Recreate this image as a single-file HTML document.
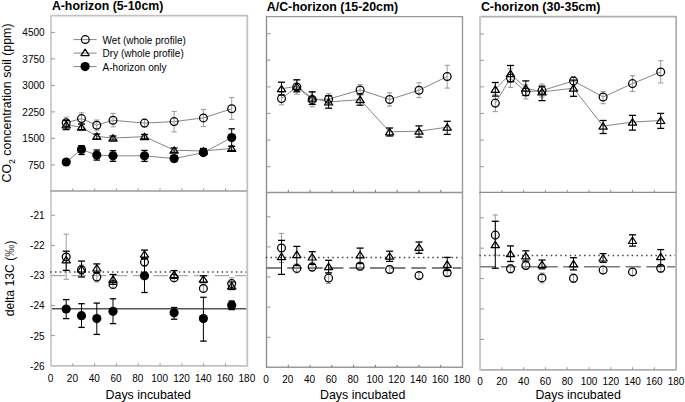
<!DOCTYPE html>
<html><head><meta charset="utf-8"><style>
html,body{margin:0;padding:0;background:#fff;}
svg{display:block;}
text{font-family:"Liberation Sans", sans-serif;fill:#000;}
</style></head><body>
<svg width="685" height="402" viewBox="0 0 685 402">
<rect width="685" height="402" fill="#fff"/>
<path d="M51 15.6H247.3V365.9H51" fill="none" stroke="#c2c2c2" stroke-width="1.8"/>
<line x1="51" y1="14.8" x2="51" y2="366.7" stroke="#d0d0d0" stroke-width="2.0"/>
<line x1="50" y1="191" x2="247.3" y2="191" stroke="#b4b4b4" stroke-width="1.8"/>
<line x1="51" y1="32.4" x2="55" y2="32.4" stroke="#999" stroke-width="1"/>
<line x1="51" y1="58.9" x2="55" y2="58.9" stroke="#999" stroke-width="1"/>
<line x1="51" y1="85.4" x2="55" y2="85.4" stroke="#999" stroke-width="1"/>
<line x1="51" y1="111.9" x2="55" y2="111.9" stroke="#999" stroke-width="1"/>
<line x1="51" y1="138.4" x2="55" y2="138.4" stroke="#999" stroke-width="1"/>
<line x1="51" y1="164.9" x2="55" y2="164.9" stroke="#999" stroke-width="1"/>
<line x1="51" y1="215.3" x2="55" y2="215.3" stroke="#999" stroke-width="1"/>
<line x1="51" y1="245.4" x2="55" y2="245.4" stroke="#999" stroke-width="1"/>
<line x1="51" y1="275.4" x2="55" y2="275.4" stroke="#999" stroke-width="1"/>
<line x1="51" y1="305.5" x2="55" y2="305.5" stroke="#999" stroke-width="1"/>
<line x1="51" y1="335.6" x2="55" y2="335.6" stroke="#999" stroke-width="1"/>
<line x1="72.81" y1="191" x2="72.81" y2="188.4" stroke="#999" stroke-width="1"/>
<line x1="72.81" y1="365.9" x2="72.81" y2="363.3" stroke="#999" stroke-width="1"/>
<line x1="94.62" y1="191" x2="94.62" y2="188.4" stroke="#999" stroke-width="1"/>
<line x1="94.62" y1="365.9" x2="94.62" y2="363.3" stroke="#999" stroke-width="1"/>
<line x1="116.43" y1="191" x2="116.43" y2="188.4" stroke="#999" stroke-width="1"/>
<line x1="116.43" y1="365.9" x2="116.43" y2="363.3" stroke="#999" stroke-width="1"/>
<line x1="138.24" y1="191" x2="138.24" y2="188.4" stroke="#999" stroke-width="1"/>
<line x1="138.24" y1="365.9" x2="138.24" y2="363.3" stroke="#999" stroke-width="1"/>
<line x1="160.06" y1="191" x2="160.06" y2="188.4" stroke="#999" stroke-width="1"/>
<line x1="160.06" y1="365.9" x2="160.06" y2="363.3" stroke="#999" stroke-width="1"/>
<line x1="181.87" y1="191" x2="181.87" y2="188.4" stroke="#999" stroke-width="1"/>
<line x1="181.87" y1="365.9" x2="181.87" y2="363.3" stroke="#999" stroke-width="1"/>
<line x1="203.68" y1="191" x2="203.68" y2="188.4" stroke="#999" stroke-width="1"/>
<line x1="203.68" y1="365.9" x2="203.68" y2="363.3" stroke="#999" stroke-width="1"/>
<line x1="225.49" y1="191" x2="225.49" y2="188.4" stroke="#999" stroke-width="1"/>
<line x1="225.49" y1="365.9" x2="225.49" y2="363.3" stroke="#999" stroke-width="1"/>
<line x1="50.25" y1="272" x2="246.3" y2="272" stroke="#444" stroke-width="1.4" stroke-dasharray="1.5 3.26"/>
<line x1="51" y1="275.6" x2="246.3" y2="275.6" stroke="#aaa" stroke-width="1.3" stroke-dasharray="14.6 5.85"/>
<line x1="52" y1="308.7" x2="246.3" y2="308.7" stroke="#555" stroke-width="1.6"/>
<polyline points="66.2,122.7 81.5,118.6 96.8,125.2 113,120.3 144.5,123.1 174.1,121.6 203.4,117.9 231.7,108.8" fill="none" stroke="#868686" stroke-width="1"/>
<polyline points="66.2,124.8 81.5,127.2 96.8,136.3 113,138.1 144.5,136.6 174.1,150.2 203.4,151 231.7,148.4" fill="none" stroke="#868686" stroke-width="1"/>
<polyline points="66.2,162 81.5,149.5 96.8,155.1 113,155.8 144.5,155.8 174.1,158.6 203.4,152.6 231.7,137.6" fill="none" stroke="#868686" stroke-width="1"/>
<line x1="66.2" y1="117.2" x2="66.2" y2="129" stroke="#9e9e9e" stroke-width="1.0"/>
<line x1="63.6" y1="117.2" x2="68.8" y2="117.2" stroke="#9e9e9e" stroke-width="1.1"/>
<line x1="63.6" y1="129" x2="68.8" y2="129" stroke="#9e9e9e" stroke-width="1.1"/>
<line x1="81.5" y1="112.8" x2="81.5" y2="124.3" stroke="#9e9e9e" stroke-width="1.0"/>
<line x1="78.9" y1="112.8" x2="84.1" y2="112.8" stroke="#9e9e9e" stroke-width="1.1"/>
<line x1="78.9" y1="124.3" x2="84.1" y2="124.3" stroke="#9e9e9e" stroke-width="1.1"/>
<line x1="96.8" y1="120" x2="96.8" y2="130.8" stroke="#9e9e9e" stroke-width="1.0"/>
<line x1="94.2" y1="120" x2="99.4" y2="120" stroke="#9e9e9e" stroke-width="1.1"/>
<line x1="94.2" y1="130.8" x2="99.4" y2="130.8" stroke="#9e9e9e" stroke-width="1.1"/>
<line x1="113" y1="113.4" x2="113" y2="126.8" stroke="#9e9e9e" stroke-width="1.0"/>
<line x1="110.4" y1="113.4" x2="115.6" y2="113.4" stroke="#9e9e9e" stroke-width="1.1"/>
<line x1="110.4" y1="126.8" x2="115.6" y2="126.8" stroke="#9e9e9e" stroke-width="1.1"/>
<line x1="144.5" y1="119.5" x2="144.5" y2="126.7" stroke="#9e9e9e" stroke-width="1.0"/>
<line x1="141.9" y1="119.5" x2="147.1" y2="119.5" stroke="#9e9e9e" stroke-width="1.1"/>
<line x1="141.9" y1="126.7" x2="147.1" y2="126.7" stroke="#9e9e9e" stroke-width="1.1"/>
<line x1="174.1" y1="111.4" x2="174.1" y2="131.9" stroke="#9e9e9e" stroke-width="1.0"/>
<line x1="171.5" y1="111.4" x2="176.7" y2="111.4" stroke="#9e9e9e" stroke-width="1.1"/>
<line x1="171.5" y1="131.9" x2="176.7" y2="131.9" stroke="#9e9e9e" stroke-width="1.1"/>
<line x1="203.4" y1="109.5" x2="203.4" y2="126.5" stroke="#9e9e9e" stroke-width="1.0"/>
<line x1="200.8" y1="109.5" x2="206" y2="109.5" stroke="#9e9e9e" stroke-width="1.1"/>
<line x1="200.8" y1="126.5" x2="206" y2="126.5" stroke="#9e9e9e" stroke-width="1.1"/>
<line x1="231.7" y1="97.5" x2="231.7" y2="119.3" stroke="#9e9e9e" stroke-width="1.0"/>
<line x1="229.1" y1="97.5" x2="234.3" y2="97.5" stroke="#9e9e9e" stroke-width="1.1"/>
<line x1="229.1" y1="119.3" x2="234.3" y2="119.3" stroke="#9e9e9e" stroke-width="1.1"/>
<line x1="66.2" y1="120.5" x2="66.2" y2="129.6" stroke="#000" stroke-width="1.0"/>
<line x1="62.7" y1="120.5" x2="69.7" y2="120.5" stroke="#000" stroke-width="1.3"/>
<line x1="62.7" y1="129.6" x2="69.7" y2="129.6" stroke="#000" stroke-width="1.3"/>
<line x1="81.5" y1="124" x2="81.5" y2="129.6" stroke="#000" stroke-width="1.0"/>
<line x1="78" y1="124" x2="85" y2="124" stroke="#000" stroke-width="1.3"/>
<line x1="78" y1="129.6" x2="85" y2="129.6" stroke="#000" stroke-width="1.3"/>
<line x1="96.8" y1="134" x2="96.8" y2="139" stroke="#000" stroke-width="1.0"/>
<line x1="93.3" y1="134" x2="100.3" y2="134" stroke="#000" stroke-width="1.3"/>
<line x1="93.3" y1="139" x2="100.3" y2="139" stroke="#000" stroke-width="1.3"/>
<line x1="113" y1="136" x2="113" y2="140" stroke="#000" stroke-width="1.0"/>
<line x1="109.5" y1="136" x2="116.5" y2="136" stroke="#000" stroke-width="1.3"/>
<line x1="109.5" y1="140" x2="116.5" y2="140" stroke="#000" stroke-width="1.3"/>
<line x1="144.5" y1="134.5" x2="144.5" y2="138.8" stroke="#000" stroke-width="1.0"/>
<line x1="141" y1="134.5" x2="148" y2="134.5" stroke="#000" stroke-width="1.3"/>
<line x1="141" y1="138.8" x2="148" y2="138.8" stroke="#000" stroke-width="1.3"/>
<line x1="174.1" y1="148" x2="174.1" y2="152.3" stroke="#000" stroke-width="1.0"/>
<line x1="170.6" y1="148" x2="177.6" y2="148" stroke="#000" stroke-width="1.3"/>
<line x1="170.6" y1="152.3" x2="177.6" y2="152.3" stroke="#000" stroke-width="1.3"/>
<line x1="203.4" y1="148.5" x2="203.4" y2="153.5" stroke="#000" stroke-width="1.0"/>
<line x1="199.9" y1="148.5" x2="206.9" y2="148.5" stroke="#000" stroke-width="1.3"/>
<line x1="199.9" y1="153.5" x2="206.9" y2="153.5" stroke="#000" stroke-width="1.3"/>
<line x1="231.7" y1="146.3" x2="231.7" y2="150.5" stroke="#000" stroke-width="1.0"/>
<line x1="228.2" y1="146.3" x2="235.2" y2="146.3" stroke="#000" stroke-width="1.3"/>
<line x1="228.2" y1="150.5" x2="235.2" y2="150.5" stroke="#000" stroke-width="1.3"/>
<line x1="81.5" y1="145.6" x2="81.5" y2="154.5" stroke="#000" stroke-width="1.0"/>
<line x1="78.3" y1="145.6" x2="84.7" y2="145.6" stroke="#000" stroke-width="1.3"/>
<line x1="78.3" y1="154.5" x2="84.7" y2="154.5" stroke="#000" stroke-width="1.3"/>
<line x1="96.8" y1="150" x2="96.8" y2="160.1" stroke="#000" stroke-width="1.0"/>
<line x1="93.6" y1="150" x2="100" y2="150" stroke="#000" stroke-width="1.3"/>
<line x1="93.6" y1="160.1" x2="100" y2="160.1" stroke="#000" stroke-width="1.3"/>
<line x1="113" y1="150.6" x2="113" y2="161.3" stroke="#000" stroke-width="1.0"/>
<line x1="109.8" y1="150.6" x2="116.2" y2="150.6" stroke="#000" stroke-width="1.3"/>
<line x1="109.8" y1="161.3" x2="116.2" y2="161.3" stroke="#000" stroke-width="1.3"/>
<line x1="144.5" y1="150.4" x2="144.5" y2="161.4" stroke="#000" stroke-width="1.0"/>
<line x1="141.3" y1="150.4" x2="147.7" y2="150.4" stroke="#000" stroke-width="1.3"/>
<line x1="141.3" y1="161.4" x2="147.7" y2="161.4" stroke="#000" stroke-width="1.3"/>
<line x1="174.1" y1="155.6" x2="174.1" y2="161.6" stroke="#000" stroke-width="1.0"/>
<line x1="170.9" y1="155.6" x2="177.3" y2="155.6" stroke="#000" stroke-width="1.3"/>
<line x1="170.9" y1="161.6" x2="177.3" y2="161.6" stroke="#000" stroke-width="1.3"/>
<line x1="203.4" y1="150.5" x2="203.4" y2="155" stroke="#000" stroke-width="1.0"/>
<line x1="200.2" y1="150.5" x2="206.6" y2="150.5" stroke="#000" stroke-width="1.3"/>
<line x1="200.2" y1="155" x2="206.6" y2="155" stroke="#000" stroke-width="1.3"/>
<line x1="231.7" y1="128.8" x2="231.7" y2="146.4" stroke="#000" stroke-width="1.0"/>
<line x1="228.5" y1="128.8" x2="234.9" y2="128.8" stroke="#000" stroke-width="1.3"/>
<line x1="228.5" y1="146.4" x2="234.9" y2="146.4" stroke="#000" stroke-width="1.3"/>
<circle cx="66.2" cy="122.7" r="3.9" fill="none" stroke="#000" stroke-width="1.25"/>
<circle cx="81.5" cy="118.6" r="3.9" fill="none" stroke="#000" stroke-width="1.25"/>
<circle cx="96.8" cy="125.2" r="3.9" fill="none" stroke="#000" stroke-width="1.25"/>
<circle cx="113" cy="120.3" r="3.9" fill="none" stroke="#000" stroke-width="1.25"/>
<circle cx="144.5" cy="123.1" r="3.9" fill="none" stroke="#000" stroke-width="1.25"/>
<circle cx="174.1" cy="121.6" r="3.9" fill="none" stroke="#000" stroke-width="1.25"/>
<circle cx="203.4" cy="117.9" r="3.9" fill="none" stroke="#000" stroke-width="1.25"/>
<circle cx="231.7" cy="108.8" r="3.9" fill="none" stroke="#000" stroke-width="1.25"/>
<path d="M66.2 121.4L70.35 127.8L62.05 127.8Z" fill="none" stroke="#000" stroke-width="1.2" stroke-linejoin="round"/>
<path d="M81.5 123.8L85.65 130.2L77.35 130.2Z" fill="none" stroke="#000" stroke-width="1.2" stroke-linejoin="round"/>
<path d="M96.8 132.9L100.95 139.3L92.65 139.3Z" fill="none" stroke="#000" stroke-width="1.2" stroke-linejoin="round"/>
<path d="M113 134.7L117.15 141.1L108.85 141.1Z" fill="none" stroke="#000" stroke-width="1.2" stroke-linejoin="round"/>
<path d="M144.5 133.2L148.65 139.6L140.35 139.6Z" fill="none" stroke="#000" stroke-width="1.2" stroke-linejoin="round"/>
<path d="M174.1 146.8L178.25 153.2L169.95 153.2Z" fill="none" stroke="#000" stroke-width="1.2" stroke-linejoin="round"/>
<path d="M203.4 147.6L207.55 154L199.25 154Z" fill="none" stroke="#000" stroke-width="1.2" stroke-linejoin="round"/>
<path d="M231.7 145L235.85 151.4L227.55 151.4Z" fill="none" stroke="#000" stroke-width="1.2" stroke-linejoin="round"/>
<circle cx="66.2" cy="162" r="4.6" fill="#000"/>
<circle cx="81.5" cy="149.5" r="4.6" fill="#000"/>
<circle cx="96.8" cy="155.1" r="4.6" fill="#000"/>
<circle cx="113" cy="155.8" r="4.6" fill="#000"/>
<circle cx="144.5" cy="155.8" r="4.6" fill="#000"/>
<circle cx="174.1" cy="158.6" r="4.6" fill="#000"/>
<circle cx="203.4" cy="152.6" r="4.6" fill="#000"/>
<circle cx="231.7" cy="137.6" r="4.6" fill="#000"/>
<line x1="66.2" y1="234.2" x2="66.2" y2="279.4" stroke="#9e9e9e" stroke-width="1.0"/>
<line x1="63.6" y1="234.2" x2="68.8" y2="234.2" stroke="#9e9e9e" stroke-width="1.1"/>
<line x1="63.6" y1="279.4" x2="68.8" y2="279.4" stroke="#9e9e9e" stroke-width="1.1"/>
<line x1="81.5" y1="265" x2="81.5" y2="274.5" stroke="#9e9e9e" stroke-width="1.0"/>
<line x1="78.9" y1="265" x2="84.1" y2="265" stroke="#9e9e9e" stroke-width="1.1"/>
<line x1="78.9" y1="274.5" x2="84.1" y2="274.5" stroke="#9e9e9e" stroke-width="1.1"/>
<line x1="96.8" y1="272" x2="96.8" y2="282" stroke="#9e9e9e" stroke-width="1.0"/>
<line x1="94.2" y1="272" x2="99.4" y2="272" stroke="#9e9e9e" stroke-width="1.1"/>
<line x1="94.2" y1="282" x2="99.4" y2="282" stroke="#9e9e9e" stroke-width="1.1"/>
<line x1="113" y1="280" x2="113" y2="288.5" stroke="#9e9e9e" stroke-width="1.0"/>
<line x1="110.4" y1="280" x2="115.6" y2="280" stroke="#9e9e9e" stroke-width="1.1"/>
<line x1="110.4" y1="288.5" x2="115.6" y2="288.5" stroke="#9e9e9e" stroke-width="1.1"/>
<line x1="144.5" y1="258" x2="144.5" y2="266" stroke="#9e9e9e" stroke-width="1.0"/>
<line x1="141.9" y1="258" x2="147.1" y2="258" stroke="#9e9e9e" stroke-width="1.1"/>
<line x1="141.9" y1="266" x2="147.1" y2="266" stroke="#9e9e9e" stroke-width="1.1"/>
<line x1="174.1" y1="274.5" x2="174.1" y2="281" stroke="#9e9e9e" stroke-width="1.0"/>
<line x1="171.5" y1="274.5" x2="176.7" y2="274.5" stroke="#9e9e9e" stroke-width="1.1"/>
<line x1="171.5" y1="281" x2="176.7" y2="281" stroke="#9e9e9e" stroke-width="1.1"/>
<line x1="203.4" y1="285" x2="203.4" y2="292" stroke="#9e9e9e" stroke-width="1.0"/>
<line x1="200.8" y1="285" x2="206" y2="285" stroke="#9e9e9e" stroke-width="1.1"/>
<line x1="200.8" y1="292" x2="206" y2="292" stroke="#9e9e9e" stroke-width="1.1"/>
<line x1="231.7" y1="277.8" x2="231.7" y2="289.4" stroke="#9e9e9e" stroke-width="1.0"/>
<line x1="229.1" y1="277.8" x2="234.3" y2="277.8" stroke="#9e9e9e" stroke-width="1.1"/>
<line x1="229.1" y1="289.4" x2="234.3" y2="289.4" stroke="#9e9e9e" stroke-width="1.1"/>
<line x1="66.2" y1="251.2" x2="66.2" y2="270.4" stroke="#000" stroke-width="1.0"/>
<line x1="62.7" y1="251.2" x2="69.7" y2="251.2" stroke="#000" stroke-width="1.3"/>
<line x1="62.7" y1="270.4" x2="69.7" y2="270.4" stroke="#000" stroke-width="1.3"/>
<line x1="81.5" y1="261.1" x2="81.5" y2="277" stroke="#000" stroke-width="1.0"/>
<line x1="78" y1="261.1" x2="85" y2="261.1" stroke="#000" stroke-width="1.3"/>
<line x1="78" y1="277" x2="85" y2="277" stroke="#000" stroke-width="1.3"/>
<line x1="96.8" y1="263.9" x2="96.8" y2="272.5" stroke="#000" stroke-width="1.0"/>
<line x1="93.3" y1="263.9" x2="100.3" y2="263.9" stroke="#000" stroke-width="1.3"/>
<line x1="93.3" y1="272.5" x2="100.3" y2="272.5" stroke="#000" stroke-width="1.3"/>
<line x1="113" y1="274.5" x2="113" y2="284.3" stroke="#000" stroke-width="1.0"/>
<line x1="109.5" y1="274.5" x2="116.5" y2="274.5" stroke="#000" stroke-width="1.3"/>
<line x1="109.5" y1="284.3" x2="116.5" y2="284.3" stroke="#000" stroke-width="1.3"/>
<line x1="144.5" y1="250.1" x2="144.5" y2="258.3" stroke="#000" stroke-width="1.0"/>
<line x1="141" y1="250.1" x2="148" y2="250.1" stroke="#000" stroke-width="1.3"/>
<line x1="141" y1="258.3" x2="148" y2="258.3" stroke="#000" stroke-width="1.3"/>
<line x1="174.1" y1="270.6" x2="174.1" y2="278.4" stroke="#000" stroke-width="1.0"/>
<line x1="170.6" y1="270.6" x2="177.6" y2="270.6" stroke="#000" stroke-width="1.3"/>
<line x1="170.6" y1="278.4" x2="177.6" y2="278.4" stroke="#000" stroke-width="1.3"/>
<line x1="203.4" y1="275.8" x2="203.4" y2="282.6" stroke="#000" stroke-width="1.0"/>
<line x1="199.9" y1="275.8" x2="206.9" y2="275.8" stroke="#000" stroke-width="1.3"/>
<line x1="199.9" y1="282.6" x2="206.9" y2="282.6" stroke="#000" stroke-width="1.3"/>
<line x1="231.7" y1="282" x2="231.7" y2="289.5" stroke="#000" stroke-width="1.0"/>
<line x1="228.2" y1="282" x2="235.2" y2="282" stroke="#000" stroke-width="1.3"/>
<line x1="228.2" y1="289.5" x2="235.2" y2="289.5" stroke="#000" stroke-width="1.3"/>
<line x1="66.2" y1="299.6" x2="66.2" y2="318.6" stroke="#000" stroke-width="1.0"/>
<line x1="63" y1="299.6" x2="69.4" y2="299.6" stroke="#000" stroke-width="1.3"/>
<line x1="63" y1="318.6" x2="69.4" y2="318.6" stroke="#000" stroke-width="1.3"/>
<line x1="81.5" y1="303.7" x2="81.5" y2="327.4" stroke="#000" stroke-width="1.0"/>
<line x1="78.3" y1="303.7" x2="84.7" y2="303.7" stroke="#000" stroke-width="1.3"/>
<line x1="78.3" y1="327.4" x2="84.7" y2="327.4" stroke="#000" stroke-width="1.3"/>
<line x1="96.8" y1="303.1" x2="96.8" y2="334.4" stroke="#000" stroke-width="1.0"/>
<line x1="93.6" y1="303.1" x2="100" y2="303.1" stroke="#000" stroke-width="1.3"/>
<line x1="93.6" y1="334.4" x2="100" y2="334.4" stroke="#000" stroke-width="1.3"/>
<line x1="113" y1="298.8" x2="113" y2="323.6" stroke="#000" stroke-width="1.0"/>
<line x1="109.8" y1="298.8" x2="116.2" y2="298.8" stroke="#000" stroke-width="1.3"/>
<line x1="109.8" y1="323.6" x2="116.2" y2="323.6" stroke="#000" stroke-width="1.3"/>
<line x1="144.5" y1="259.1" x2="144.5" y2="292.5" stroke="#000" stroke-width="1.0"/>
<line x1="141.3" y1="259.1" x2="147.7" y2="259.1" stroke="#000" stroke-width="1.3"/>
<line x1="141.3" y1="292.5" x2="147.7" y2="292.5" stroke="#000" stroke-width="1.3"/>
<line x1="174.1" y1="307.5" x2="174.1" y2="319.2" stroke="#000" stroke-width="1.0"/>
<line x1="170.9" y1="307.5" x2="177.3" y2="307.5" stroke="#000" stroke-width="1.3"/>
<line x1="170.9" y1="319.2" x2="177.3" y2="319.2" stroke="#000" stroke-width="1.3"/>
<line x1="203.4" y1="297.3" x2="203.4" y2="341.1" stroke="#000" stroke-width="1.0"/>
<line x1="200.2" y1="297.3" x2="206.6" y2="297.3" stroke="#000" stroke-width="1.3"/>
<line x1="200.2" y1="341.1" x2="206.6" y2="341.1" stroke="#000" stroke-width="1.3"/>
<line x1="231.7" y1="301.1" x2="231.7" y2="309.6" stroke="#000" stroke-width="1.0"/>
<line x1="228.5" y1="301.1" x2="234.9" y2="301.1" stroke="#000" stroke-width="1.3"/>
<line x1="228.5" y1="309.6" x2="234.9" y2="309.6" stroke="#000" stroke-width="1.3"/>
<circle cx="66.2" cy="256.9" r="3.9" fill="none" stroke="#000" stroke-width="1.25"/>
<circle cx="81.5" cy="269.8" r="3.9" fill="none" stroke="#000" stroke-width="1.25"/>
<circle cx="96.8" cy="277" r="3.9" fill="none" stroke="#000" stroke-width="1.25"/>
<circle cx="113" cy="284.4" r="3.9" fill="none" stroke="#000" stroke-width="1.25"/>
<circle cx="144.5" cy="262.1" r="3.9" fill="none" stroke="#000" stroke-width="1.25"/>
<circle cx="174.1" cy="277.9" r="3.9" fill="none" stroke="#000" stroke-width="1.25"/>
<circle cx="203.4" cy="288.4" r="3.9" fill="none" stroke="#000" stroke-width="1.25"/>
<circle cx="231.7" cy="283.6" r="3.9" fill="none" stroke="#000" stroke-width="1.25"/>
<path d="M66.2 256.4L70.35 262.8L62.05 262.8Z" fill="none" stroke="#000" stroke-width="1.2" stroke-linejoin="round"/>
<path d="M81.5 265.6L85.65 272L77.35 272Z" fill="none" stroke="#000" stroke-width="1.2" stroke-linejoin="round"/>
<path d="M96.8 264.6L100.95 271L92.65 271Z" fill="none" stroke="#000" stroke-width="1.2" stroke-linejoin="round"/>
<path d="M113 275.9L117.15 282.3L108.85 282.3Z" fill="none" stroke="#000" stroke-width="1.2" stroke-linejoin="round"/>
<path d="M144.5 250.8L148.65 257.2L140.35 257.2Z" fill="none" stroke="#000" stroke-width="1.2" stroke-linejoin="round"/>
<path d="M174.1 271.2L178.25 277.6L169.95 277.6Z" fill="none" stroke="#000" stroke-width="1.2" stroke-linejoin="round"/>
<path d="M203.4 275.8L207.55 282.2L199.25 282.2Z" fill="none" stroke="#000" stroke-width="1.2" stroke-linejoin="round"/>
<path d="M231.7 282.5L235.85 288.9L227.55 288.9Z" fill="none" stroke="#000" stroke-width="1.2" stroke-linejoin="round"/>
<circle cx="66.2" cy="309" r="4.6" fill="#000"/>
<circle cx="81.5" cy="315.7" r="4.6" fill="#000"/>
<circle cx="96.8" cy="318.6" r="4.6" fill="#000"/>
<circle cx="113" cy="311.3" r="4.6" fill="#000"/>
<circle cx="144.5" cy="275.8" r="4.6" fill="#000"/>
<circle cx="174.1" cy="312.8" r="4.6" fill="#000"/>
<circle cx="203.4" cy="318.6" r="4.6" fill="#000"/>
<circle cx="231.7" cy="305.2" r="4.6" fill="#000"/>
<path d="M266.5 16.6H462.5V367.3H266.5" fill="none" stroke="#9a9a9a" stroke-width="1.4"/>
<line x1="266.5" y1="15.8" x2="266.5" y2="368.1" stroke="#8a8a8a" stroke-width="1.3"/>
<line x1="265.85" y1="192.4" x2="462.5" y2="192.4" stroke="#959595" stroke-width="1.5"/>
<line x1="266.5" y1="33.6" x2="270.5" y2="33.6" stroke="#999" stroke-width="1"/>
<line x1="266.5" y1="60.2" x2="270.5" y2="60.2" stroke="#999" stroke-width="1"/>
<line x1="266.5" y1="86.9" x2="270.5" y2="86.9" stroke="#999" stroke-width="1"/>
<line x1="266.5" y1="113.4" x2="270.5" y2="113.4" stroke="#999" stroke-width="1"/>
<line x1="266.5" y1="140.1" x2="270.5" y2="140.1" stroke="#999" stroke-width="1"/>
<line x1="266.5" y1="166.7" x2="270.5" y2="166.7" stroke="#999" stroke-width="1"/>
<line x1="266.5" y1="216.8" x2="270.5" y2="216.8" stroke="#999" stroke-width="1"/>
<line x1="266.5" y1="246.9" x2="270.5" y2="246.9" stroke="#999" stroke-width="1"/>
<line x1="266.5" y1="277" x2="270.5" y2="277" stroke="#999" stroke-width="1"/>
<line x1="266.5" y1="307.2" x2="270.5" y2="307.2" stroke="#999" stroke-width="1"/>
<line x1="266.5" y1="337.3" x2="270.5" y2="337.3" stroke="#999" stroke-width="1"/>
<line x1="288.28" y1="192.4" x2="288.28" y2="189.8" stroke="#7a7a7a" stroke-width="1"/>
<line x1="288.28" y1="367.3" x2="288.28" y2="364.7" stroke="#7a7a7a" stroke-width="1"/>
<line x1="310.06" y1="192.4" x2="310.06" y2="189.8" stroke="#7a7a7a" stroke-width="1"/>
<line x1="310.06" y1="367.3" x2="310.06" y2="364.7" stroke="#7a7a7a" stroke-width="1"/>
<line x1="331.83" y1="192.4" x2="331.83" y2="189.8" stroke="#7a7a7a" stroke-width="1"/>
<line x1="331.83" y1="367.3" x2="331.83" y2="364.7" stroke="#7a7a7a" stroke-width="1"/>
<line x1="353.61" y1="192.4" x2="353.61" y2="189.8" stroke="#7a7a7a" stroke-width="1"/>
<line x1="353.61" y1="367.3" x2="353.61" y2="364.7" stroke="#7a7a7a" stroke-width="1"/>
<line x1="375.39" y1="192.4" x2="375.39" y2="189.8" stroke="#7a7a7a" stroke-width="1"/>
<line x1="375.39" y1="367.3" x2="375.39" y2="364.7" stroke="#7a7a7a" stroke-width="1"/>
<line x1="397.17" y1="192.4" x2="397.17" y2="189.8" stroke="#7a7a7a" stroke-width="1"/>
<line x1="397.17" y1="367.3" x2="397.17" y2="364.7" stroke="#7a7a7a" stroke-width="1"/>
<line x1="418.94" y1="192.4" x2="418.94" y2="189.8" stroke="#7a7a7a" stroke-width="1"/>
<line x1="418.94" y1="367.3" x2="418.94" y2="364.7" stroke="#7a7a7a" stroke-width="1"/>
<line x1="440.72" y1="192.4" x2="440.72" y2="189.8" stroke="#7a7a7a" stroke-width="1"/>
<line x1="440.72" y1="367.3" x2="440.72" y2="364.7" stroke="#7a7a7a" stroke-width="1"/>
<line x1="265.75" y1="257.5" x2="461.5" y2="257.5" stroke="#444" stroke-width="1.4" stroke-dasharray="1.5 3.26"/>
<line x1="266.5" y1="268" x2="461.5" y2="268" stroke="#5a5a5a" stroke-width="1.6" stroke-dasharray="14.9 5.78"/>
<polyline points="281.5,98.6 296.8,87 312.2,99.5 328.6,99.2 360.1,89.9 389.6,99.5 419,90.2 447.2,76.5" fill="none" stroke="#868686" stroke-width="1"/>
<polyline points="281.5,88.7 296.8,86.4 312.2,98.1 328.6,102 360.1,99.6 389.6,131.8 419,131.2 447.2,127.2" fill="none" stroke="#868686" stroke-width="1"/>
<line x1="281.5" y1="92.4" x2="281.5" y2="104.8" stroke="#9e9e9e" stroke-width="1.0"/>
<line x1="278.9" y1="92.4" x2="284.1" y2="92.4" stroke="#9e9e9e" stroke-width="1.1"/>
<line x1="278.9" y1="104.8" x2="284.1" y2="104.8" stroke="#9e9e9e" stroke-width="1.1"/>
<line x1="296.8" y1="79.8" x2="296.8" y2="94.2" stroke="#9e9e9e" stroke-width="1.0"/>
<line x1="294.2" y1="79.8" x2="299.4" y2="79.8" stroke="#9e9e9e" stroke-width="1.1"/>
<line x1="294.2" y1="94.2" x2="299.4" y2="94.2" stroke="#9e9e9e" stroke-width="1.1"/>
<line x1="312.2" y1="92.5" x2="312.2" y2="106.8" stroke="#9e9e9e" stroke-width="1.0"/>
<line x1="309.6" y1="92.5" x2="314.8" y2="92.5" stroke="#9e9e9e" stroke-width="1.1"/>
<line x1="309.6" y1="106.8" x2="314.8" y2="106.8" stroke="#9e9e9e" stroke-width="1.1"/>
<line x1="328.6" y1="93.7" x2="328.6" y2="104.7" stroke="#9e9e9e" stroke-width="1.0"/>
<line x1="326" y1="93.7" x2="331.2" y2="93.7" stroke="#9e9e9e" stroke-width="1.1"/>
<line x1="326" y1="104.7" x2="331.2" y2="104.7" stroke="#9e9e9e" stroke-width="1.1"/>
<line x1="360.1" y1="84.6" x2="360.1" y2="95.2" stroke="#9e9e9e" stroke-width="1.0"/>
<line x1="357.5" y1="84.6" x2="362.7" y2="84.6" stroke="#9e9e9e" stroke-width="1.1"/>
<line x1="357.5" y1="95.2" x2="362.7" y2="95.2" stroke="#9e9e9e" stroke-width="1.1"/>
<line x1="389.6" y1="92.7" x2="389.6" y2="106.1" stroke="#9e9e9e" stroke-width="1.0"/>
<line x1="387" y1="92.7" x2="392.2" y2="92.7" stroke="#9e9e9e" stroke-width="1.1"/>
<line x1="387" y1="106.1" x2="392.2" y2="106.1" stroke="#9e9e9e" stroke-width="1.1"/>
<line x1="419" y1="82.8" x2="419" y2="97.6" stroke="#9e9e9e" stroke-width="1.0"/>
<line x1="416.4" y1="82.8" x2="421.6" y2="82.8" stroke="#9e9e9e" stroke-width="1.1"/>
<line x1="416.4" y1="97.6" x2="421.6" y2="97.6" stroke="#9e9e9e" stroke-width="1.1"/>
<line x1="447.2" y1="65.3" x2="447.2" y2="88.1" stroke="#9e9e9e" stroke-width="1.0"/>
<line x1="444.6" y1="65.3" x2="449.8" y2="65.3" stroke="#9e9e9e" stroke-width="1.1"/>
<line x1="444.6" y1="88.1" x2="449.8" y2="88.1" stroke="#9e9e9e" stroke-width="1.1"/>
<line x1="281.5" y1="82.2" x2="281.5" y2="95" stroke="#000" stroke-width="1.0"/>
<line x1="278" y1="82.2" x2="285" y2="82.2" stroke="#000" stroke-width="1.3"/>
<line x1="278" y1="95" x2="285" y2="95" stroke="#000" stroke-width="1.3"/>
<line x1="296.8" y1="79.8" x2="296.8" y2="91.8" stroke="#000" stroke-width="1.0"/>
<line x1="293.3" y1="79.8" x2="300.3" y2="79.8" stroke="#000" stroke-width="1.3"/>
<line x1="293.3" y1="91.8" x2="300.3" y2="91.8" stroke="#000" stroke-width="1.3"/>
<line x1="312.2" y1="91.8" x2="312.2" y2="104.4" stroke="#000" stroke-width="1.0"/>
<line x1="308.7" y1="91.8" x2="315.7" y2="91.8" stroke="#000" stroke-width="1.3"/>
<line x1="308.7" y1="104.4" x2="315.7" y2="104.4" stroke="#000" stroke-width="1.3"/>
<line x1="328.6" y1="95.8" x2="328.6" y2="108.2" stroke="#000" stroke-width="1.0"/>
<line x1="325.1" y1="95.8" x2="332.1" y2="95.8" stroke="#000" stroke-width="1.3"/>
<line x1="325.1" y1="108.2" x2="332.1" y2="108.2" stroke="#000" stroke-width="1.3"/>
<line x1="360.1" y1="94" x2="360.1" y2="105.2" stroke="#000" stroke-width="1.0"/>
<line x1="356.6" y1="94" x2="363.6" y2="94" stroke="#000" stroke-width="1.3"/>
<line x1="356.6" y1="105.2" x2="363.6" y2="105.2" stroke="#000" stroke-width="1.3"/>
<line x1="389.6" y1="128" x2="389.6" y2="136" stroke="#000" stroke-width="1.0"/>
<line x1="386.1" y1="128" x2="393.1" y2="128" stroke="#000" stroke-width="1.3"/>
<line x1="386.1" y1="136" x2="393.1" y2="136" stroke="#000" stroke-width="1.3"/>
<line x1="419" y1="125.9" x2="419" y2="137.1" stroke="#000" stroke-width="1.0"/>
<line x1="415.5" y1="125.9" x2="422.5" y2="125.9" stroke="#000" stroke-width="1.3"/>
<line x1="415.5" y1="137.1" x2="422.5" y2="137.1" stroke="#000" stroke-width="1.3"/>
<line x1="447.2" y1="121.3" x2="447.2" y2="134.4" stroke="#000" stroke-width="1.0"/>
<line x1="443.7" y1="121.3" x2="450.7" y2="121.3" stroke="#000" stroke-width="1.3"/>
<line x1="443.7" y1="134.4" x2="450.7" y2="134.4" stroke="#000" stroke-width="1.3"/>
<circle cx="281.5" cy="98.6" r="3.9" fill="none" stroke="#000" stroke-width="1.25"/>
<circle cx="296.8" cy="87" r="3.9" fill="none" stroke="#000" stroke-width="1.25"/>
<circle cx="312.2" cy="99.5" r="3.9" fill="none" stroke="#000" stroke-width="1.25"/>
<circle cx="328.6" cy="99.2" r="3.9" fill="none" stroke="#000" stroke-width="1.25"/>
<circle cx="360.1" cy="89.9" r="3.9" fill="none" stroke="#000" stroke-width="1.25"/>
<circle cx="389.6" cy="99.5" r="3.9" fill="none" stroke="#000" stroke-width="1.25"/>
<circle cx="419" cy="90.2" r="3.9" fill="none" stroke="#000" stroke-width="1.25"/>
<circle cx="447.2" cy="76.5" r="3.9" fill="none" stroke="#000" stroke-width="1.25"/>
<path d="M281.5 85.3L285.65 91.7L277.35 91.7Z" fill="none" stroke="#000" stroke-width="1.2" stroke-linejoin="round"/>
<path d="M296.8 83L300.95 89.4L292.65 89.4Z" fill="none" stroke="#000" stroke-width="1.2" stroke-linejoin="round"/>
<path d="M312.2 94.7L316.35 101.1L308.05 101.1Z" fill="none" stroke="#000" stroke-width="1.2" stroke-linejoin="round"/>
<path d="M328.6 98.6L332.75 105L324.45 105Z" fill="none" stroke="#000" stroke-width="1.2" stroke-linejoin="round"/>
<path d="M360.1 96.2L364.25 102.6L355.95 102.6Z" fill="none" stroke="#000" stroke-width="1.2" stroke-linejoin="round"/>
<path d="M389.6 128.4L393.75 134.8L385.45 134.8Z" fill="none" stroke="#000" stroke-width="1.2" stroke-linejoin="round"/>
<path d="M419 127.8L423.15 134.2L414.85 134.2Z" fill="none" stroke="#000" stroke-width="1.2" stroke-linejoin="round"/>
<path d="M447.2 123.8L451.35 130.2L443.05 130.2Z" fill="none" stroke="#000" stroke-width="1.2" stroke-linejoin="round"/>
<line x1="281.5" y1="233.4" x2="281.5" y2="262.6" stroke="#9e9e9e" stroke-width="1.0"/>
<line x1="278.9" y1="233.4" x2="284.1" y2="233.4" stroke="#9e9e9e" stroke-width="1.1"/>
<line x1="278.9" y1="262.6" x2="284.1" y2="262.6" stroke="#9e9e9e" stroke-width="1.1"/>
<line x1="296.8" y1="264" x2="296.8" y2="272.8" stroke="#9e9e9e" stroke-width="1.0"/>
<line x1="294.2" y1="264" x2="299.4" y2="264" stroke="#9e9e9e" stroke-width="1.1"/>
<line x1="294.2" y1="272.8" x2="299.4" y2="272.8" stroke="#9e9e9e" stroke-width="1.1"/>
<line x1="312.2" y1="263" x2="312.2" y2="271" stroke="#9e9e9e" stroke-width="1.0"/>
<line x1="309.6" y1="263" x2="314.8" y2="263" stroke="#9e9e9e" stroke-width="1.1"/>
<line x1="309.6" y1="271" x2="314.8" y2="271" stroke="#9e9e9e" stroke-width="1.1"/>
<line x1="328.6" y1="272.7" x2="328.6" y2="283.5" stroke="#9e9e9e" stroke-width="1.0"/>
<line x1="326" y1="272.7" x2="331.2" y2="272.7" stroke="#9e9e9e" stroke-width="1.1"/>
<line x1="326" y1="283.5" x2="331.2" y2="283.5" stroke="#9e9e9e" stroke-width="1.1"/>
<line x1="360.1" y1="262.5" x2="360.1" y2="270" stroke="#9e9e9e" stroke-width="1.0"/>
<line x1="357.5" y1="262.5" x2="362.7" y2="262.5" stroke="#9e9e9e" stroke-width="1.1"/>
<line x1="357.5" y1="270" x2="362.7" y2="270" stroke="#9e9e9e" stroke-width="1.1"/>
<line x1="389.6" y1="266" x2="389.6" y2="273" stroke="#9e9e9e" stroke-width="1.0"/>
<line x1="387" y1="266" x2="392.2" y2="266" stroke="#9e9e9e" stroke-width="1.1"/>
<line x1="387" y1="273" x2="392.2" y2="273" stroke="#9e9e9e" stroke-width="1.1"/>
<line x1="419" y1="272.5" x2="419" y2="278.7" stroke="#9e9e9e" stroke-width="1.0"/>
<line x1="416.4" y1="272.5" x2="421.6" y2="272.5" stroke="#9e9e9e" stroke-width="1.1"/>
<line x1="416.4" y1="278.7" x2="421.6" y2="278.7" stroke="#9e9e9e" stroke-width="1.1"/>
<line x1="447.2" y1="269.5" x2="447.2" y2="276" stroke="#9e9e9e" stroke-width="1.0"/>
<line x1="444.6" y1="269.5" x2="449.8" y2="269.5" stroke="#9e9e9e" stroke-width="1.1"/>
<line x1="444.6" y1="276" x2="449.8" y2="276" stroke="#9e9e9e" stroke-width="1.1"/>
<line x1="281.5" y1="240.4" x2="281.5" y2="274.4" stroke="#000" stroke-width="1.0"/>
<line x1="278" y1="240.4" x2="285" y2="240.4" stroke="#000" stroke-width="1.3"/>
<line x1="278" y1="274.4" x2="285" y2="274.4" stroke="#000" stroke-width="1.3"/>
<line x1="296.8" y1="246.4" x2="296.8" y2="265.5" stroke="#000" stroke-width="1.0"/>
<line x1="293.3" y1="246.4" x2="300.3" y2="246.4" stroke="#000" stroke-width="1.3"/>
<line x1="293.3" y1="265.5" x2="300.3" y2="265.5" stroke="#000" stroke-width="1.3"/>
<line x1="312.2" y1="251.7" x2="312.2" y2="264.5" stroke="#000" stroke-width="1.0"/>
<line x1="308.7" y1="251.7" x2="315.7" y2="251.7" stroke="#000" stroke-width="1.3"/>
<line x1="308.7" y1="264.5" x2="315.7" y2="264.5" stroke="#000" stroke-width="1.3"/>
<line x1="328.6" y1="260.3" x2="328.6" y2="272.9" stroke="#000" stroke-width="1.0"/>
<line x1="325.1" y1="260.3" x2="332.1" y2="260.3" stroke="#000" stroke-width="1.3"/>
<line x1="325.1" y1="272.9" x2="332.1" y2="272.9" stroke="#000" stroke-width="1.3"/>
<line x1="360.1" y1="248.1" x2="360.1" y2="263.5" stroke="#000" stroke-width="1.0"/>
<line x1="356.6" y1="248.1" x2="363.6" y2="248.1" stroke="#000" stroke-width="1.3"/>
<line x1="356.6" y1="263.5" x2="363.6" y2="263.5" stroke="#000" stroke-width="1.3"/>
<line x1="389.6" y1="251.2" x2="389.6" y2="261.4" stroke="#000" stroke-width="1.0"/>
<line x1="386.1" y1="251.2" x2="393.1" y2="251.2" stroke="#000" stroke-width="1.3"/>
<line x1="386.1" y1="261.4" x2="393.1" y2="261.4" stroke="#000" stroke-width="1.3"/>
<line x1="419" y1="242" x2="419" y2="253.3" stroke="#000" stroke-width="1.0"/>
<line x1="415.5" y1="242" x2="422.5" y2="242" stroke="#000" stroke-width="1.3"/>
<line x1="415.5" y1="253.3" x2="422.5" y2="253.3" stroke="#000" stroke-width="1.3"/>
<line x1="447.2" y1="257.4" x2="447.2" y2="270.5" stroke="#000" stroke-width="1.0"/>
<line x1="443.7" y1="257.4" x2="450.7" y2="257.4" stroke="#000" stroke-width="1.3"/>
<line x1="443.7" y1="270.5" x2="450.7" y2="270.5" stroke="#000" stroke-width="1.3"/>
<circle cx="281.5" cy="248" r="3.9" fill="none" stroke="#000" stroke-width="1.25"/>
<circle cx="296.8" cy="268.4" r="3.9" fill="none" stroke="#000" stroke-width="1.25"/>
<circle cx="312.2" cy="267.1" r="3.9" fill="none" stroke="#000" stroke-width="1.25"/>
<circle cx="328.6" cy="278.1" r="3.9" fill="none" stroke="#000" stroke-width="1.25"/>
<circle cx="360.1" cy="266.3" r="3.9" fill="none" stroke="#000" stroke-width="1.25"/>
<circle cx="389.6" cy="269.5" r="3.9" fill="none" stroke="#000" stroke-width="1.25"/>
<circle cx="419" cy="275.6" r="3.9" fill="none" stroke="#000" stroke-width="1.25"/>
<circle cx="447.2" cy="272.7" r="3.9" fill="none" stroke="#000" stroke-width="1.25"/>
<path d="M281.5 253.2L285.65 259.6L277.35 259.6Z" fill="none" stroke="#000" stroke-width="1.2" stroke-linejoin="round"/>
<path d="M296.8 251.2L300.95 257.6L292.65 257.6Z" fill="none" stroke="#000" stroke-width="1.2" stroke-linejoin="round"/>
<path d="M312.2 253.6L316.35 260L308.05 260Z" fill="none" stroke="#000" stroke-width="1.2" stroke-linejoin="round"/>
<path d="M328.6 263.2L332.75 269.6L324.45 269.6Z" fill="none" stroke="#000" stroke-width="1.2" stroke-linejoin="round"/>
<path d="M360.1 251.5L364.25 257.9L355.95 257.9Z" fill="none" stroke="#000" stroke-width="1.2" stroke-linejoin="round"/>
<path d="M389.6 252.8L393.75 259.2L385.45 259.2Z" fill="none" stroke="#000" stroke-width="1.2" stroke-linejoin="round"/>
<path d="M419 243.9L423.15 250.3L414.85 250.3Z" fill="none" stroke="#000" stroke-width="1.2" stroke-linejoin="round"/>
<path d="M447.2 260.9L451.35 267.3L443.05 267.3Z" fill="none" stroke="#000" stroke-width="1.2" stroke-linejoin="round"/>
<path d="M480.1 16.7H676.1V369.8H480.1" fill="none" stroke="#afafaf" stroke-width="1.7"/>
<line x1="480.1" y1="15.9" x2="480.1" y2="370.6" stroke="#c8c8c8" stroke-width="2.0"/>
<line x1="479.1" y1="192.4" x2="676.1" y2="192.4" stroke="#8c8c8c" stroke-width="1.3"/>
<line x1="480.1" y1="34" x2="484.1" y2="34" stroke="#999" stroke-width="1"/>
<line x1="480.1" y1="60.3" x2="484.1" y2="60.3" stroke="#999" stroke-width="1"/>
<line x1="480.1" y1="86.9" x2="484.1" y2="86.9" stroke="#999" stroke-width="1"/>
<line x1="480.1" y1="113.4" x2="484.1" y2="113.4" stroke="#999" stroke-width="1"/>
<line x1="480.1" y1="140.1" x2="484.1" y2="140.1" stroke="#999" stroke-width="1"/>
<line x1="480.1" y1="166.7" x2="484.1" y2="166.7" stroke="#999" stroke-width="1"/>
<line x1="480.1" y1="217.8" x2="484.1" y2="217.8" stroke="#999" stroke-width="1"/>
<line x1="480.1" y1="248.2" x2="484.1" y2="248.2" stroke="#999" stroke-width="1"/>
<line x1="480.1" y1="278.6" x2="484.1" y2="278.6" stroke="#999" stroke-width="1"/>
<line x1="480.1" y1="309" x2="484.1" y2="309" stroke="#999" stroke-width="1"/>
<line x1="480.1" y1="339.4" x2="484.1" y2="339.4" stroke="#999" stroke-width="1"/>
<line x1="501.88" y1="192.4" x2="501.88" y2="189.8" stroke="#999" stroke-width="1"/>
<line x1="501.88" y1="369.8" x2="501.88" y2="367.2" stroke="#999" stroke-width="1"/>
<line x1="523.66" y1="192.4" x2="523.66" y2="189.8" stroke="#999" stroke-width="1"/>
<line x1="523.66" y1="369.8" x2="523.66" y2="367.2" stroke="#999" stroke-width="1"/>
<line x1="545.43" y1="192.4" x2="545.43" y2="189.8" stroke="#999" stroke-width="1"/>
<line x1="545.43" y1="369.8" x2="545.43" y2="367.2" stroke="#999" stroke-width="1"/>
<line x1="567.21" y1="192.4" x2="567.21" y2="189.8" stroke="#999" stroke-width="1"/>
<line x1="567.21" y1="369.8" x2="567.21" y2="367.2" stroke="#999" stroke-width="1"/>
<line x1="588.99" y1="192.4" x2="588.99" y2="189.8" stroke="#999" stroke-width="1"/>
<line x1="588.99" y1="369.8" x2="588.99" y2="367.2" stroke="#999" stroke-width="1"/>
<line x1="610.77" y1="192.4" x2="610.77" y2="189.8" stroke="#999" stroke-width="1"/>
<line x1="610.77" y1="369.8" x2="610.77" y2="367.2" stroke="#999" stroke-width="1"/>
<line x1="632.54" y1="192.4" x2="632.54" y2="189.8" stroke="#999" stroke-width="1"/>
<line x1="632.54" y1="369.8" x2="632.54" y2="367.2" stroke="#999" stroke-width="1"/>
<line x1="654.32" y1="192.4" x2="654.32" y2="189.8" stroke="#999" stroke-width="1"/>
<line x1="654.32" y1="369.8" x2="654.32" y2="367.2" stroke="#999" stroke-width="1"/>
<line x1="479.35" y1="255.5" x2="675.1" y2="255.5" stroke="#444" stroke-width="1.4" stroke-dasharray="1.5 3.26"/>
<line x1="480.1" y1="266.7" x2="675.1" y2="266.7" stroke="#7a7a7a" stroke-width="1.6" stroke-dasharray="15.3 5.48"/>
<polyline points="495.3,103.1 510.5,78.1 525.8,91.9 542,90.6 573.5,80.9 603.1,97 632.5,83.6 660.7,71.9" fill="none" stroke="#868686" stroke-width="1"/>
<polyline points="495.3,89.3 510.5,73.6 525.8,88.2 542,91.9 573.5,88.2 603.1,126.1 632.5,122.1 660.7,120.5" fill="none" stroke="#868686" stroke-width="1"/>
<line x1="495.3" y1="94.6" x2="495.3" y2="111.6" stroke="#9e9e9e" stroke-width="1.0"/>
<line x1="492.7" y1="94.6" x2="497.9" y2="94.6" stroke="#9e9e9e" stroke-width="1.1"/>
<line x1="492.7" y1="111.6" x2="497.9" y2="111.6" stroke="#9e9e9e" stroke-width="1.1"/>
<line x1="510.5" y1="68.8" x2="510.5" y2="87.4" stroke="#9e9e9e" stroke-width="1.0"/>
<line x1="507.9" y1="68.8" x2="513.1" y2="68.8" stroke="#9e9e9e" stroke-width="1.1"/>
<line x1="507.9" y1="87.4" x2="513.1" y2="87.4" stroke="#9e9e9e" stroke-width="1.1"/>
<line x1="525.8" y1="84.8" x2="525.8" y2="99" stroke="#9e9e9e" stroke-width="1.0"/>
<line x1="523.2" y1="84.8" x2="528.4" y2="84.8" stroke="#9e9e9e" stroke-width="1.1"/>
<line x1="523.2" y1="99" x2="528.4" y2="99" stroke="#9e9e9e" stroke-width="1.1"/>
<line x1="542" y1="84" x2="542" y2="97" stroke="#9e9e9e" stroke-width="1.0"/>
<line x1="539.4" y1="84" x2="544.6" y2="84" stroke="#9e9e9e" stroke-width="1.1"/>
<line x1="539.4" y1="97" x2="544.6" y2="97" stroke="#9e9e9e" stroke-width="1.1"/>
<line x1="573.5" y1="76.5" x2="573.5" y2="85.3" stroke="#9e9e9e" stroke-width="1.0"/>
<line x1="570.9" y1="76.5" x2="576.1" y2="76.5" stroke="#9e9e9e" stroke-width="1.1"/>
<line x1="570.9" y1="85.3" x2="576.1" y2="85.3" stroke="#9e9e9e" stroke-width="1.1"/>
<line x1="603.1" y1="91.4" x2="603.1" y2="103.7" stroke="#9e9e9e" stroke-width="1.0"/>
<line x1="600.5" y1="91.4" x2="605.7" y2="91.4" stroke="#9e9e9e" stroke-width="1.1"/>
<line x1="600.5" y1="103.7" x2="605.7" y2="103.7" stroke="#9e9e9e" stroke-width="1.1"/>
<line x1="632.5" y1="75.7" x2="632.5" y2="91.4" stroke="#9e9e9e" stroke-width="1.0"/>
<line x1="629.9" y1="75.7" x2="635.1" y2="75.7" stroke="#9e9e9e" stroke-width="1.1"/>
<line x1="629.9" y1="91.4" x2="635.1" y2="91.4" stroke="#9e9e9e" stroke-width="1.1"/>
<line x1="660.7" y1="60.7" x2="660.7" y2="82.9" stroke="#9e9e9e" stroke-width="1.0"/>
<line x1="658.1" y1="60.7" x2="663.3" y2="60.7" stroke="#9e9e9e" stroke-width="1.1"/>
<line x1="658.1" y1="82.9" x2="663.3" y2="82.9" stroke="#9e9e9e" stroke-width="1.1"/>
<line x1="495.3" y1="82.5" x2="495.3" y2="96.1" stroke="#000" stroke-width="1.0"/>
<line x1="491.8" y1="82.5" x2="498.8" y2="82.5" stroke="#000" stroke-width="1.3"/>
<line x1="491.8" y1="96.1" x2="498.8" y2="96.1" stroke="#000" stroke-width="1.3"/>
<line x1="510.5" y1="65.5" x2="510.5" y2="81.7" stroke="#000" stroke-width="1.0"/>
<line x1="507" y1="65.5" x2="514" y2="65.5" stroke="#000" stroke-width="1.3"/>
<line x1="507" y1="81.7" x2="514" y2="81.7" stroke="#000" stroke-width="1.3"/>
<line x1="525.8" y1="80.9" x2="525.8" y2="95.5" stroke="#000" stroke-width="1.0"/>
<line x1="522.3" y1="80.9" x2="529.3" y2="80.9" stroke="#000" stroke-width="1.3"/>
<line x1="522.3" y1="95.5" x2="529.3" y2="95.5" stroke="#000" stroke-width="1.3"/>
<line x1="542" y1="86.2" x2="542" y2="100.6" stroke="#000" stroke-width="1.0"/>
<line x1="538.5" y1="86.2" x2="545.5" y2="86.2" stroke="#000" stroke-width="1.3"/>
<line x1="538.5" y1="100.6" x2="545.5" y2="100.6" stroke="#000" stroke-width="1.3"/>
<line x1="573.5" y1="80.1" x2="573.5" y2="96.3" stroke="#000" stroke-width="1.0"/>
<line x1="570" y1="80.1" x2="577" y2="80.1" stroke="#000" stroke-width="1.3"/>
<line x1="570" y1="96.3" x2="577" y2="96.3" stroke="#000" stroke-width="1.3"/>
<line x1="603.1" y1="120.5" x2="603.1" y2="133.5" stroke="#000" stroke-width="1.0"/>
<line x1="599.6" y1="120.5" x2="606.6" y2="120.5" stroke="#000" stroke-width="1.3"/>
<line x1="599.6" y1="133.5" x2="606.6" y2="133.5" stroke="#000" stroke-width="1.3"/>
<line x1="632.5" y1="115.4" x2="632.5" y2="130.1" stroke="#000" stroke-width="1.0"/>
<line x1="629" y1="115.4" x2="636" y2="115.4" stroke="#000" stroke-width="1.3"/>
<line x1="629" y1="130.1" x2="636" y2="130.1" stroke="#000" stroke-width="1.3"/>
<line x1="660.7" y1="113.4" x2="660.7" y2="128.4" stroke="#000" stroke-width="1.0"/>
<line x1="657.2" y1="113.4" x2="664.2" y2="113.4" stroke="#000" stroke-width="1.3"/>
<line x1="657.2" y1="128.4" x2="664.2" y2="128.4" stroke="#000" stroke-width="1.3"/>
<circle cx="495.3" cy="103.1" r="3.9" fill="none" stroke="#000" stroke-width="1.25"/>
<circle cx="510.5" cy="78.1" r="3.9" fill="none" stroke="#000" stroke-width="1.25"/>
<circle cx="525.8" cy="91.9" r="3.9" fill="none" stroke="#000" stroke-width="1.25"/>
<circle cx="542" cy="90.6" r="3.9" fill="none" stroke="#000" stroke-width="1.25"/>
<circle cx="573.5" cy="80.9" r="3.9" fill="none" stroke="#000" stroke-width="1.25"/>
<circle cx="603.1" cy="97" r="3.9" fill="none" stroke="#000" stroke-width="1.25"/>
<circle cx="632.5" cy="83.6" r="3.9" fill="none" stroke="#000" stroke-width="1.25"/>
<circle cx="660.7" cy="71.9" r="3.9" fill="none" stroke="#000" stroke-width="1.25"/>
<path d="M495.3 85.9L499.45 92.3L491.15 92.3Z" fill="none" stroke="#000" stroke-width="1.2" stroke-linejoin="round"/>
<path d="M510.5 70.2L514.65 76.6L506.35 76.6Z" fill="none" stroke="#000" stroke-width="1.2" stroke-linejoin="round"/>
<path d="M525.8 84.8L529.95 91.2L521.65 91.2Z" fill="none" stroke="#000" stroke-width="1.2" stroke-linejoin="round"/>
<path d="M542 88.5L546.15 94.9L537.85 94.9Z" fill="none" stroke="#000" stroke-width="1.2" stroke-linejoin="round"/>
<path d="M573.5 84.8L577.65 91.2L569.35 91.2Z" fill="none" stroke="#000" stroke-width="1.2" stroke-linejoin="round"/>
<path d="M603.1 122.7L607.25 129.1L598.95 129.1Z" fill="none" stroke="#000" stroke-width="1.2" stroke-linejoin="round"/>
<path d="M632.5 118.7L636.65 125.1L628.35 125.1Z" fill="none" stroke="#000" stroke-width="1.2" stroke-linejoin="round"/>
<path d="M660.7 117.1L664.85 123.5L656.55 123.5Z" fill="none" stroke="#000" stroke-width="1.2" stroke-linejoin="round"/>
<line x1="495.3" y1="215" x2="495.3" y2="255.2" stroke="#9e9e9e" stroke-width="1.0"/>
<line x1="492.7" y1="215" x2="497.9" y2="215" stroke="#9e9e9e" stroke-width="1.1"/>
<line x1="492.7" y1="255.2" x2="497.9" y2="255.2" stroke="#9e9e9e" stroke-width="1.1"/>
<line x1="510.5" y1="264.5" x2="510.5" y2="273" stroke="#9e9e9e" stroke-width="1.0"/>
<line x1="507.9" y1="264.5" x2="513.1" y2="264.5" stroke="#9e9e9e" stroke-width="1.1"/>
<line x1="507.9" y1="273" x2="513.1" y2="273" stroke="#9e9e9e" stroke-width="1.1"/>
<line x1="525.8" y1="262" x2="525.8" y2="269" stroke="#9e9e9e" stroke-width="1.0"/>
<line x1="523.2" y1="262" x2="528.4" y2="262" stroke="#9e9e9e" stroke-width="1.1"/>
<line x1="523.2" y1="269" x2="528.4" y2="269" stroke="#9e9e9e" stroke-width="1.1"/>
<line x1="542" y1="273" x2="542" y2="282.8" stroke="#9e9e9e" stroke-width="1.0"/>
<line x1="539.4" y1="273" x2="544.6" y2="273" stroke="#9e9e9e" stroke-width="1.1"/>
<line x1="539.4" y1="282.8" x2="544.6" y2="282.8" stroke="#9e9e9e" stroke-width="1.1"/>
<line x1="573.5" y1="274" x2="573.5" y2="282.5" stroke="#9e9e9e" stroke-width="1.0"/>
<line x1="570.9" y1="274" x2="576.1" y2="274" stroke="#9e9e9e" stroke-width="1.1"/>
<line x1="570.9" y1="282.5" x2="576.1" y2="282.5" stroke="#9e9e9e" stroke-width="1.1"/>
<line x1="603.1" y1="266.5" x2="603.1" y2="273.5" stroke="#9e9e9e" stroke-width="1.0"/>
<line x1="600.5" y1="266.5" x2="605.7" y2="266.5" stroke="#9e9e9e" stroke-width="1.1"/>
<line x1="600.5" y1="273.5" x2="605.7" y2="273.5" stroke="#9e9e9e" stroke-width="1.1"/>
<line x1="632.5" y1="268.5" x2="632.5" y2="275.3" stroke="#9e9e9e" stroke-width="1.0"/>
<line x1="629.9" y1="268.5" x2="635.1" y2="268.5" stroke="#9e9e9e" stroke-width="1.1"/>
<line x1="629.9" y1="275.3" x2="635.1" y2="275.3" stroke="#9e9e9e" stroke-width="1.1"/>
<line x1="660.7" y1="264.5" x2="660.7" y2="272" stroke="#9e9e9e" stroke-width="1.0"/>
<line x1="658.1" y1="264.5" x2="663.3" y2="264.5" stroke="#9e9e9e" stroke-width="1.1"/>
<line x1="658.1" y1="272" x2="663.3" y2="272" stroke="#9e9e9e" stroke-width="1.1"/>
<line x1="495.3" y1="221.3" x2="495.3" y2="268.2" stroke="#000" stroke-width="1.0"/>
<line x1="491.8" y1="221.3" x2="498.8" y2="221.3" stroke="#000" stroke-width="1.3"/>
<line x1="491.8" y1="268.2" x2="498.8" y2="268.2" stroke="#000" stroke-width="1.3"/>
<line x1="510.5" y1="245.9" x2="510.5" y2="261.5" stroke="#000" stroke-width="1.0"/>
<line x1="507" y1="245.9" x2="514" y2="245.9" stroke="#000" stroke-width="1.3"/>
<line x1="507" y1="261.5" x2="514" y2="261.5" stroke="#000" stroke-width="1.3"/>
<line x1="525.8" y1="250.8" x2="525.8" y2="261" stroke="#000" stroke-width="1.0"/>
<line x1="522.3" y1="250.8" x2="529.3" y2="250.8" stroke="#000" stroke-width="1.3"/>
<line x1="522.3" y1="261" x2="529.3" y2="261" stroke="#000" stroke-width="1.3"/>
<line x1="542" y1="260" x2="542" y2="268.8" stroke="#000" stroke-width="1.0"/>
<line x1="538.5" y1="260" x2="545.5" y2="260" stroke="#000" stroke-width="1.3"/>
<line x1="538.5" y1="268.8" x2="545.5" y2="268.8" stroke="#000" stroke-width="1.3"/>
<line x1="573.5" y1="257.7" x2="573.5" y2="269.9" stroke="#000" stroke-width="1.0"/>
<line x1="570" y1="257.7" x2="577" y2="257.7" stroke="#000" stroke-width="1.3"/>
<line x1="570" y1="269.9" x2="577" y2="269.9" stroke="#000" stroke-width="1.3"/>
<line x1="603.1" y1="253.6" x2="603.1" y2="262.4" stroke="#000" stroke-width="1.0"/>
<line x1="599.6" y1="253.6" x2="606.6" y2="253.6" stroke="#000" stroke-width="1.3"/>
<line x1="599.6" y1="262.4" x2="606.6" y2="262.4" stroke="#000" stroke-width="1.3"/>
<line x1="632.5" y1="234.8" x2="632.5" y2="246.1" stroke="#000" stroke-width="1.0"/>
<line x1="629" y1="234.8" x2="636" y2="234.8" stroke="#000" stroke-width="1.3"/>
<line x1="629" y1="246.1" x2="636" y2="246.1" stroke="#000" stroke-width="1.3"/>
<line x1="660.7" y1="249.6" x2="660.7" y2="266" stroke="#000" stroke-width="1.0"/>
<line x1="657.2" y1="249.6" x2="664.2" y2="249.6" stroke="#000" stroke-width="1.3"/>
<line x1="657.2" y1="266" x2="664.2" y2="266" stroke="#000" stroke-width="1.3"/>
<circle cx="495.3" cy="235.1" r="3.9" fill="none" stroke="#000" stroke-width="1.25"/>
<circle cx="510.5" cy="268.7" r="3.9" fill="none" stroke="#000" stroke-width="1.25"/>
<circle cx="525.8" cy="265.5" r="3.9" fill="none" stroke="#000" stroke-width="1.25"/>
<circle cx="542" cy="277.9" r="3.9" fill="none" stroke="#000" stroke-width="1.25"/>
<circle cx="573.5" cy="278.3" r="3.9" fill="none" stroke="#000" stroke-width="1.25"/>
<circle cx="603.1" cy="270.1" r="3.9" fill="none" stroke="#000" stroke-width="1.25"/>
<circle cx="632.5" cy="271.9" r="3.9" fill="none" stroke="#000" stroke-width="1.25"/>
<circle cx="660.7" cy="268.2" r="3.9" fill="none" stroke="#000" stroke-width="1.25"/>
<path d="M495.3 241.3L499.45 247.7L491.15 247.7Z" fill="none" stroke="#000" stroke-width="1.2" stroke-linejoin="round"/>
<path d="M510.5 250.3L514.65 256.7L506.35 256.7Z" fill="none" stroke="#000" stroke-width="1.2" stroke-linejoin="round"/>
<path d="M525.8 252.5L529.95 258.9L521.65 258.9Z" fill="none" stroke="#000" stroke-width="1.2" stroke-linejoin="round"/>
<path d="M542 261L546.15 267.4L537.85 267.4Z" fill="none" stroke="#000" stroke-width="1.2" stroke-linejoin="round"/>
<path d="M573.5 260.4L577.65 266.8L569.35 266.8Z" fill="none" stroke="#000" stroke-width="1.2" stroke-linejoin="round"/>
<path d="M603.1 254.6L607.25 261L598.95 261Z" fill="none" stroke="#000" stroke-width="1.2" stroke-linejoin="round"/>
<path d="M632.5 237.1L636.65 243.5L628.35 243.5Z" fill="none" stroke="#000" stroke-width="1.2" stroke-linejoin="round"/>
<path d="M660.7 253.2L664.85 259.6L656.55 259.6Z" fill="none" stroke="#000" stroke-width="1.2" stroke-linejoin="round"/>
<line x1="73.5" y1="39.6" x2="96.6" y2="39.6" stroke="#868686" stroke-width="1"/>
<circle cx="85.3" cy="39.6" r="3.9" fill="none" stroke="#000" stroke-width="1.25"/>
<line x1="73.5" y1="53.1" x2="96.6" y2="53.1" stroke="#868686" stroke-width="1"/>
<path d="M85.1 49.2L89.25 55.6L80.95 55.6Z" fill="none" stroke="#000" stroke-width="1.2" stroke-linejoin="round"/>
<line x1="73.5" y1="66.6" x2="96.6" y2="66.6" stroke="#868686" stroke-width="1"/>
<circle cx="85.1" cy="66.6" r="4.6" fill="#000"/>
<text x="51.9" y="9.7" font-size="12.3" text-anchor="start" font-weight="bold" >A-horizon (5-10cm)</text>
<text x="266.8" y="10.9" font-size="12.38" text-anchor="start" font-weight="bold" >A/C-horizon (15-20cm)</text>
<text x="480.9" y="11.2" font-size="12.45" text-anchor="start" font-weight="bold" >C-horizon (30-35cm)</text>
<text x="44.6" y="36" font-size="10" text-anchor="end" font-weight="normal" >4500</text>
<text x="44.6" y="62.5" font-size="10" text-anchor="end" font-weight="normal" >3750</text>
<text x="44.6" y="89" font-size="10" text-anchor="end" font-weight="normal" >3000</text>
<text x="44.6" y="115.5" font-size="10" text-anchor="end" font-weight="normal" >2250</text>
<text x="44.6" y="142" font-size="10" text-anchor="end" font-weight="normal" >1500</text>
<text x="44.6" y="168.5" font-size="10" text-anchor="end" font-weight="normal" >750</text>
<text x="44.5" y="219.2" font-size="10" text-anchor="end" font-weight="normal" >-21</text>
<text x="44.5" y="249.3" font-size="10" text-anchor="end" font-weight="normal" >-22</text>
<text x="44.5" y="279.3" font-size="10" text-anchor="end" font-weight="normal" >-23</text>
<text x="44.5" y="309.4" font-size="10" text-anchor="end" font-weight="normal" >-24</text>
<text x="44.5" y="339.5" font-size="10" text-anchor="end" font-weight="normal" >-25</text>
<text x="44.5" y="369.8" font-size="10" text-anchor="end" font-weight="normal" >-26</text>
<text x="50.6" y="382" font-size="10" text-anchor="middle" font-weight="normal" >0</text>
<text x="72.41" y="382" font-size="10" text-anchor="middle" font-weight="normal" >20</text>
<text x="94.22" y="382" font-size="10" text-anchor="middle" font-weight="normal" >40</text>
<text x="116.03" y="382" font-size="10" text-anchor="middle" font-weight="normal" >60</text>
<text x="137.84" y="382" font-size="10" text-anchor="middle" font-weight="normal" >80</text>
<text x="159.66" y="382" font-size="10" text-anchor="middle" font-weight="normal" >100</text>
<text x="181.47" y="382" font-size="10" text-anchor="middle" font-weight="normal" >120</text>
<text x="203.28" y="382" font-size="10" text-anchor="middle" font-weight="normal" >140</text>
<text x="225.09" y="382" font-size="10" text-anchor="middle" font-weight="normal" >160</text>
<text x="246.9" y="382" font-size="10" text-anchor="middle" font-weight="normal" >180</text>
<text x="148.3" y="398.8" font-size="12.4" text-anchor="middle" font-weight="normal" >Days incubated</text>
<text x="266" y="383" font-size="10" text-anchor="middle" font-weight="normal" >0</text>
<text x="287.78" y="383" font-size="10" text-anchor="middle" font-weight="normal" >20</text>
<text x="309.56" y="383" font-size="10" text-anchor="middle" font-weight="normal" >40</text>
<text x="331.33" y="383" font-size="10" text-anchor="middle" font-weight="normal" >60</text>
<text x="353.11" y="383" font-size="10" text-anchor="middle" font-weight="normal" >80</text>
<text x="374.89" y="383" font-size="10" text-anchor="middle" font-weight="normal" >100</text>
<text x="396.67" y="383" font-size="10" text-anchor="middle" font-weight="normal" >120</text>
<text x="418.44" y="383" font-size="10" text-anchor="middle" font-weight="normal" >140</text>
<text x="440.22" y="383" font-size="10" text-anchor="middle" font-weight="normal" >160</text>
<text x="462" y="383" font-size="10" text-anchor="middle" font-weight="normal" >180</text>
<text x="362.7" y="399.2" font-size="12.4" text-anchor="middle" font-weight="normal" >Days incubated</text>
<text x="480.1" y="385" font-size="10" text-anchor="middle" font-weight="normal" >0</text>
<text x="501.88" y="385" font-size="10" text-anchor="middle" font-weight="normal" >20</text>
<text x="523.66" y="385" font-size="10" text-anchor="middle" font-weight="normal" >40</text>
<text x="545.43" y="385" font-size="10" text-anchor="middle" font-weight="normal" >60</text>
<text x="567.21" y="385" font-size="10" text-anchor="middle" font-weight="normal" >80</text>
<text x="588.99" y="385" font-size="10" text-anchor="middle" font-weight="normal" >100</text>
<text x="610.77" y="385" font-size="10" text-anchor="middle" font-weight="normal" >120</text>
<text x="632.54" y="385" font-size="10" text-anchor="middle" font-weight="normal" >140</text>
<text x="654.32" y="385" font-size="10" text-anchor="middle" font-weight="normal" >160</text>
<text x="676.1" y="385" font-size="10" text-anchor="middle" font-weight="normal" >180</text>
<text x="578.1" y="399" font-size="12.4" text-anchor="middle" font-weight="normal" >Days incubated</text>
<text transform="translate(11.4,103.0) rotate(-90)" font-size="12.4" text-anchor="middle">CO<tspan font-size="8.7" dy="3.4">2</tspan><tspan dy="-3.4"> concentration soil (ppm)</tspan></text>
<text transform="translate(14.4,278.4) rotate(-90)" font-size="12.2" text-anchor="middle">delta 13C (<tspan fill="#555">‰</tspan>)</text>
<text x="102.6" y="43.7" font-size="10" text-anchor="start" font-weight="normal" >Wet (whole profile)</text>
<text x="102.6" y="57.2" font-size="10" text-anchor="start" font-weight="normal" >Dry (whole profile)</text>
<text x="102.6" y="70.7" font-size="10" text-anchor="start" font-weight="normal" >A-horizon only</text>
</svg>
</body></html>
